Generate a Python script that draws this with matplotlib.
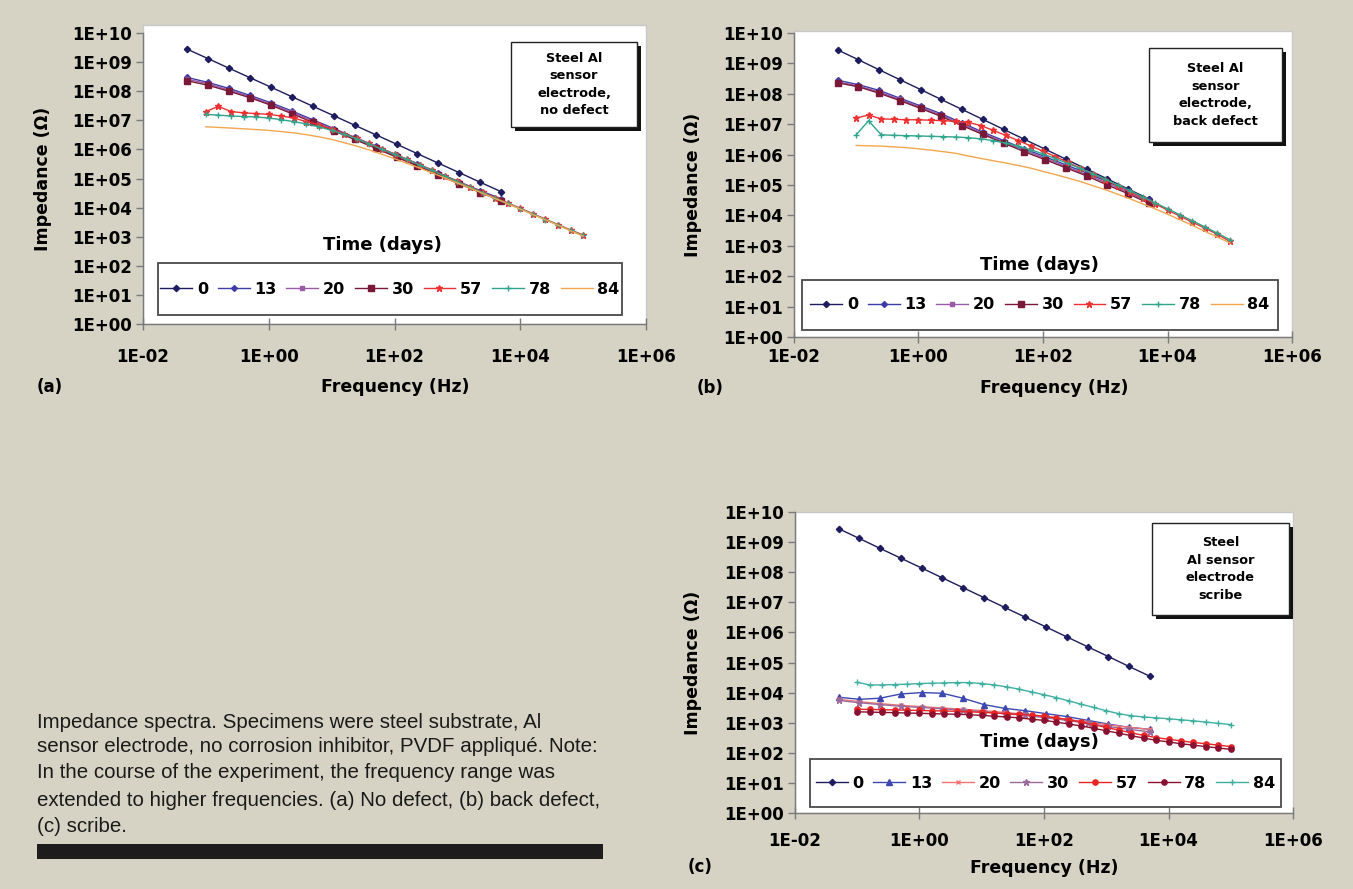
import numpy as np
import matplotlib
matplotlib.use('Agg')
import matplotlib.pyplot as plt
from matplotlib.patches import Rectangle
from matplotlib.lines import Line2D
from matplotlib.ticker import NullLocator
from matplotlib import font_manager

W, H, DPI = 1353, 889, 100
BG = '#d6d3c4'

# ---------------- data ----------------
DAYS = ['0', '13', '20', '30', '57', '78', '84']
XTICKS = [1e-2, 1e0, 1e2, 1e4, 1e6]
XTICK_LABELS = ['1E-02', '1E+00', '1E+02', '1E+04', '1E+06']
YTICKS = [1e0, 1e1, 1e2, 1e3, 1e4, 1e5, 1e6, 1e7, 1e8, 1e9, 1e10]
YTICK_LABELS = ['1E+00', '1E+01', '1E+02', '1E+03', '1E+04', '1E+05',
                '1E+06', '1E+07', '1E+08', '1E+09', '1E+10']

# frequency grids (Hz)
F_LOW = [0.05, 0.108, 0.232, 0.5, 1.08, 2.32, 5.0, 10.8, 23.2, 50.0,
         108, 232, 500, 1080, 2320, 5000]
F_WIDE = [0.1, 0.158, 0.251, 0.398, 0.631, 1.0, 1.58, 2.51, 3.98, 6.31,
          10, 15.8, 25.1, 39.8, 63.1, 100, 158, 251, 398, 631,
          1000, 1580, 2510, 3980, 6310, 1e4, 1.58e4, 2.51e4, 3.98e4, 6.31e4, 1e5]

# common day-0 curve
Z0 = [2.8e9, 1.32e9, 6.2e8, 2.93e8, 1.38e8, 6.5e7, 3.06e7, 1.44e7, 6.8e6, 3.2e6,
      1.51e6, 7.1e5, 3.35e5, 1.58e5, 7.4e4, 3.5e4]

# panel (a): no defect
A13 = [3.0e8, 2.0e8, 1.25e8, 7.2e7, 4.0e7, 2.1e7, 1.05e7, 5.2e6, 2.6e6, 1.3e6,
       6.4e5, 3.2e5, 1.55e5, 7.6e4, 3.8e4, 2.0e4]
A20 = [2.6e8, 1.8e8, 1.1e8, 6.5e7, 3.6e7, 1.9e7, 9.5e6, 4.7e6, 2.4e6, 1.2e6,
       5.9e5, 2.9e5, 1.4e5, 7.0e4, 3.5e4, 1.8e4]
A30 = [2.3e8, 1.6e8, 1.0e8, 6.0e7, 3.3e7, 1.7e7, 8.5e6, 4.3e6, 2.2e6, 1.1e6,
       5.4e5, 2.7e5, 1.3e5, 6.5e4, 3.3e4, 1.7e4]
A57 = [2.0e7, 3.0e7, 2.0e7, 1.8e7, 1.7e7, 1.6e7, 1.4e7, 1.2e7, 9.0e6, 7.0e6,
       5.0e6, 3.5e6, 2.4e6, 1.6e6, 1.05e6, 7.0e5, 4.6e5, 3.0e5, 1.95e5, 1.25e5,
       8.0e4, 5.2e4, 3.4e4, 2.2e4, 1.45e4, 9.5e3, 6.2e3, 4.0e3, 2.6e3, 1.7e3, 1.15e3]
A78 = [1.6e7, 1.5e7, 1.4e7, 1.35e7, 1.3e7, 1.2e7, 1.05e7, 9.0e6, 7.5e6, 6.0e6,
       4.5e6, 3.3e6, 2.3e6, 1.55e6, 1.0e6, 6.8e5, 4.5e5, 2.9e5, 1.9e5, 1.2e5,
       7.8e4, 5.0e4, 3.3e4, 2.1e4, 1.4e4, 9.2e3, 6.0e3, 3.9e3, 2.55e3, 1.65e3, 1.1e3]
A84 = [6.0e6, 5.7e6, 5.4e6, 5.1e6, 4.8e6, 4.5e6, 4.1e6, 3.7e6, 3.2e6, 2.7e6,
       2.2e6, 1.7e6, 1.3e6, 9.5e5, 6.8e5, 4.8e5, 3.3e5, 2.3e5, 1.55e5, 1.05e5,
       7.0e4, 4.7e4, 3.1e4, 2.05e4, 1.35e4, 8.9e3, 5.8e3, 3.8e3, 2.5e3, 1.6e3, 1.05e3]

# panel (b): back defect
B13 = [2.8e8, 2.0e8, 1.3e8, 7.2e7, 4.0e7, 2.2e7, 1.1e7, 5.5e6, 2.9e6, 1.55e6,
       8.5e5, 4.6e5, 2.5e5, 1.3e5, 6.5e4, 3.2e4]
B20 = [2.5e8, 1.8e8, 1.15e8, 6.5e7, 3.6e7, 2.0e7, 1.0e7, 5.0e6, 2.6e6, 1.4e6,
       7.6e5, 4.1e5, 2.2e5, 1.15e5, 5.8e4, 2.8e4]
B30 = [2.3e8, 1.7e8, 1.05e8, 6.0e7, 3.3e7, 1.8e7, 9.0e6, 4.6e6, 2.4e6, 1.25e6,
       6.8e5, 3.7e5, 2.0e5, 1.0e5, 5.2e4, 2.5e4]
B57 = [1.6e7, 2.0e7, 1.5e7, 1.45e7, 1.4e7, 1.4e7, 1.35e7, 1.3e7, 1.25e7, 1.15e7,
       9.0e6, 6.3e6, 4.3e6, 2.9e6, 1.95e6, 1.3e6, 8.6e5, 5.6e5, 3.6e5, 2.3e5,
       1.5e5, 9.5e4, 6.0e4, 3.8e4, 2.4e4, 1.5e4, 9.5e3, 6.0e3, 3.8e3, 2.4e3, 1.4e3]
B78 = [4.5e6, 1.3e7, 4.5e6, 4.3e6, 4.2e6, 4.1e6, 4.0e6, 3.9e6, 3.8e6, 3.6e6,
       3.3e6, 2.9e6, 2.4e6, 1.9e6, 1.45e6, 1.05e6, 7.4e5, 5.1e5, 3.5e5, 2.35e5,
       1.55e5, 1.0e5, 6.5e4, 4.1e4, 2.6e4, 1.65e4, 1.05e4, 6.6e3, 4.2e3, 2.6e3, 1.6e3]
B84 = [2.0e6, 1.95e6, 1.9e6, 1.8e6, 1.7e6, 1.55e6, 1.4e6, 1.25e6, 1.1e6, 9.0e5,
       7.5e5, 6.3e5, 5.3e5, 4.4e5, 3.6e5, 2.8e5, 2.2e5, 1.7e5, 1.3e5, 9.5e4,
       7.0e4, 5.0e4, 3.5e4, 2.4e4, 1.65e4, 1.1e4, 7.2e3, 4.7e3, 3.0e3, 1.95e3, 1.25e3]

# panel (c): scribe
C13 = [7.0e3, 6.0e3, 6.5e3, 9.0e3, 1.0e4, 9.5e3, 6.5e3, 4.0e3, 3.0e3, 2.5e3,
       2.0e3, 1.6e3, 1.2e3, 9.0e2, 7.0e2, 6.0e2]
C20 = [6.0e3, 5.0e3, 4.3e3, 3.8e3, 3.4e3, 3.1e3, 2.8e3, 2.5e3, 2.2e3, 1.9e3,
       1.6e3, 1.3e3, 1.05e3, 8.5e2, 7.0e2, 6.0e2]
C30 = [5.5e3, 4.6e3, 4.0e3, 3.5e3, 3.2e3, 2.9e3, 2.6e3, 2.3e3, 2.0e3, 1.75e3,
       1.45e3, 1.2e3, 9.5e2, 7.5e2, 6.0e2, 5.0e2]
C57 = [2.8e3, 2.75e3, 2.7e3, 2.65e3, 2.6e3, 2.55e3, 2.5e3, 2.45e3, 2.4e3, 2.3e3,
       2.2e3, 2.1e3, 2.0e3, 1.9e3, 1.8e3, 1.65e3, 1.45e3, 1.25e3, 1.05e3, 8.5e2,
       7.0e2, 5.7e2, 4.6e2, 3.8e2, 3.2e2, 2.8e2, 2.5e2, 2.2e2, 2.0e2, 1.8e2, 1.6e2]
C78 = [2.3e3, 2.25e3, 2.2e3, 2.15e3, 2.1e3, 2.05e3, 2.0e3, 1.95e3, 1.9e3, 1.85e3,
       1.75e3, 1.65e3, 1.55e3, 1.45e3, 1.3e3, 1.2e3, 1.05e3, 9.0e2, 7.8e2, 6.5e2,
       5.4e2, 4.5e2, 3.7e2, 3.1e2, 2.6e2, 2.3e2, 2.0e2, 1.8e2, 1.6e2, 1.45e2, 1.3e2]
C84 = [2.2e4, 1.8e4, 1.8e4, 1.85e4, 1.9e4, 2.0e4, 2.05e4, 2.1e4, 2.15e4, 2.15e4,
       2.0e4, 1.8e4, 1.55e4, 1.3e4, 1.05e4, 8.5e3, 6.8e3, 5.3e3, 4.1e3, 3.2e3,
       2.5e3, 2.0e3, 1.7e3, 1.55e3, 1.45e3, 1.35e3, 1.25e3, 1.15e3, 1.05e3, 9.5e2, 8.7e2]

PANEL_TEXT = {'a': 'Steel Al\nsensor\nelectrode,\nno defect',
              'b': 'Steel Al\nsensor\nelectrode,\nback defect',
              'c': 'Steel\nAl sensor\nelectrode\nscribe'}
CAPTION = ['Impedance spectra. Specimens were steel substrate, Al',
           'sensor electrode, no corrosion inhibitor, PVDF appliqu\u00e9. Note:',
           'In the course of the experiment, the frequency range was',
           'extended to higher frequencies. (a) No defect, (b) back defect,',
           '(c) scribe.']

# ---------------- styles ----------------
STYLE_AB = [dict(color='#1c1c5e', marker='D', ms=3.2),
            dict(color='#3c3ca8', marker='D', ms=3.0),
            dict(color='#9a5aa6', marker='s', ms=3.0),
            dict(color='#7a1838', marker='s', ms=3.8),
            dict(color='#ee3030', marker='*', ms=5.0),
            dict(color='#2ea58c', marker='+', ms=5.0),
            dict(color='#f2a64e', marker=None, ms=0)]
STYLE_C = [dict(color='#1c1c5e', marker='D', ms=3.2),
           dict(color='#3c48b0', marker='^', ms=4.0),
           dict(color='#f27474', marker='x', ms=3.5),
           dict(color='#9a6a9a', marker='*', ms=4.5),
           dict(color='#e82424', marker='o', ms=3.8),
           dict(color='#8a1030', marker='o', ms=3.8),
           dict(color='#3fb0a0', marker='+', ms=5.0)]

fig = plt.figure(figsize=(W / DPI, H / DPI), dpi=DPI, facecolor=BG)


def fx(x):
    return x / W


def fy(y):
    return 1 - y / H


def rect_px(x0, y0, x1, y1, **kw):
    r = Rectangle((fx(x0), fy(y1)), fx(x1) - fx(x0), fy(y0) - fy(y1),
                  transform=fig.transFigure, **kw)
    fig.patches.append(r)
    return r


FONT = 'DejaVu Sans'


def make_panel(box, white_top, xpad, series, styles, legend_box, title_xy,
               inset_box, inset_text, freq_xy, ylab_x, tag, tag_xy):
    x0, y0, x1, y1 = box  # pixel: left (1e-2), top (1e10), right (1e6), bottom (1e0)
    rect_px(x0, white_top, x1, y1, facecolor='white', edgecolor='#c8c8c8',
            lw=1.0, zorder=-1)
    ax = fig.add_axes([fx(x0), fy(y1), fx(x1) - fx(x0), fy(y0) - fy(y1)])
    ax.set_facecolor('white')
    ax.patch.set_alpha(0)
    for (f, z), st in zip(series, styles):
        ax.plot(f, z, color=st['color'], lw=1.0, marker=st['marker'],
                ms=st['ms'], mew=1.0, mec=st['color'], mfc=st['color'])
    ax.set_xscale('log')
    ax.set_yscale('log')
    ax.set_xlim(1e-2, 1e6)
    ax.set_ylim(1, 1e10)
    ax.set_xticks(XTICKS)
    ax.set_xticklabels(XTICK_LABELS, fontweight='bold', fontsize=12, family=FONT)
    ax.set_yticks(YTICKS)
    ax.set_yticklabels(YTICK_LABELS, fontweight='bold', fontsize=12, family=FONT)
    ax.xaxis.set_minor_locator(NullLocator())
    ax.yaxis.set_minor_locator(NullLocator())
    for s in ('top', 'right'):
        ax.spines[s].set_visible(False)
    for s in ('left', 'bottom'):
        ax.spines[s].set_color('#7a7a7a')
        ax.spines[s].set_linewidth(1.0)
    ax.tick_params(axis='x', direction='inout', length=9, width=1.0,
                   color='#7a7a7a', pad=xpad)
    ax.tick_params(axis='y', direction='out', length=5, width=1.0,
                   color='#7a7a7a', pad=3)

    # legend box
    lx0, ly0, lx1, ly1 = legend_box
    rect_px(lx0, ly0, lx1, ly1, facecolor='white', edgecolor='#4a4a4a',
            lw=1.3, zorder=5)
    handles = [Line2D([], [], color=st['color'], lw=1.0, marker=st['marker'],
                      ms=st['ms'], mec=st['color'], mfc=st['color'])
               for st in styles]
    leg = fig.legend(handles, DAYS, loc='center',
                     bbox_to_anchor=(fx((lx0 + lx1) / 2), fy((ly0 + ly1) / 2)),
                     ncol=7, frameon=False, handlelength=2.0,
                     handletextpad=0.3, columnspacing=0.6, borderaxespad=0,
                     borderpad=0,
                     prop=dict(family=FONT, weight='bold', size=11.5))
    leg.set_zorder(6)
    fig.text(fx(title_xy[0]), fy(title_xy[1]), 'Time (days)', ha='center',
             va='center', fontsize=13, fontweight='bold', family=FONT, zorder=7)

    # inset text box with drop shadow
    ix0, iy0, ix1, iy1 = inset_box
    rect_px(ix0 + 4, iy0 + 4, ix1 + 4, iy1 + 4, facecolor='#111111',
            edgecolor='none', zorder=5)
    rect_px(ix0, iy0, ix1, iy1, facecolor='white', edgecolor='#222222',
            lw=1.0, zorder=5.5)
    fig.text(fx((ix0 + ix1) / 2), fy((iy0 + iy1) / 2), inset_text,
             ha='center', va='center', fontsize=9.3, fontweight='bold',
             family=FONT, linespacing=1.45, zorder=7)

    fig.text(fx(freq_xy[0]), fy(freq_xy[1]), 'Frequency (Hz)', ha='center',
             va='center', fontsize=12.5, fontweight='bold', family=FONT)
    fig.text(fx(ylab_x), fy((y0 + y1) / 2), 'Impedance (\u03a9)', ha='center',
             va='center', rotation=90, fontsize=12.5, fontweight='bold',
             family=FONT)
    fig.text(fx(tag_xy[0]), fy(tag_xy[1]), tag, ha='center', va='center',
             fontsize=12, fontweight='bold', family=FONT)
    return ax


ser_a = [(F_LOW, Z0), (F_LOW, A13), (F_LOW, A20), (F_LOW, A30),
         (F_WIDE, A57), (F_WIDE, A78), (F_WIDE, A84)]
ser_b = [(F_LOW, Z0), (F_LOW, B13), (F_LOW, B20), (F_LOW, B30),
         (F_WIDE, B57), (F_WIDE, B78), (F_WIDE, B84)]
ser_c = [(F_LOW, Z0), (F_LOW, C13), (F_LOW, C20), (F_LOW, C30),
         (F_WIDE, C57), (F_WIDE, C78), (F_WIDE, C84)]

make_panel((143, 33, 646, 324), 25, 13, ser_a, STYLE_AB, (158, 263, 622, 315),
           (382, 245), (511, 42, 637, 127), PANEL_TEXT['a'], (395, 387), 43,
           '(a)', (50, 387))
make_panel((794, 33, 1292, 337), 31, 3.5, ser_b, STYLE_AB, (802, 280, 1278, 330),
           (1039, 265), (1149, 48, 1282, 142), PANEL_TEXT['b'], (1054, 388), 693,
           '(b)', (710, 388))
make_panel((795, 512, 1293, 813), 512, 9, ser_c, STYLE_C, (810, 759, 1281, 807),
           (1039, 742), (1152, 523, 1289, 615), PANEL_TEXT['c'], (1044, 868), 693,
           '(c)', (700, 867))

# ---------------- caption ----------------
names = {f.name for f in font_manager.fontManager.ttflist}
cap_font = 'Liberation Sans Narrow' if 'Liberation Sans Narrow' in names else 'Liberation Sans'
cap_y = [722, 747, 773, 800, 827]
renderer = fig.canvas.get_renderer()
probe = fig.text(0, 0, CAPTION[1], fontsize=14, family=cap_font)
wpx = probe.get_window_extent(renderer).width
probe.remove()
cap_size = 14 * 564.0 / wpx
for line, y in zip(CAPTION, cap_y):
    fig.text(fx(37), fy(y), line, ha='left', va='center', fontsize=cap_size,
             family=cap_font, color='#1a1a1a')
rect_px(37, 844, 603, 859, facecolor='#1e1c1c', edgecolor='none')

fig.savefig('out.png', dpi=DPI, facecolor=BG)
